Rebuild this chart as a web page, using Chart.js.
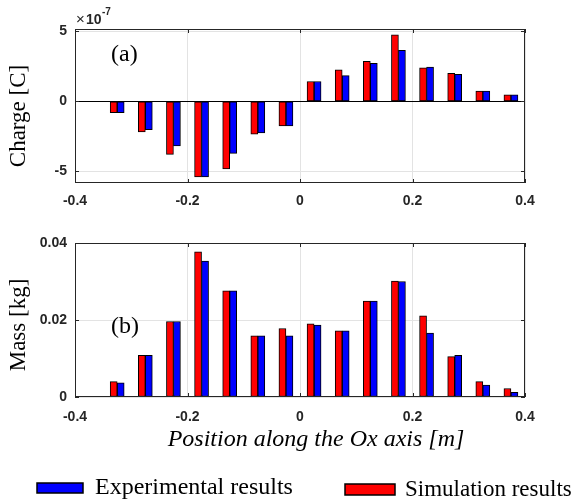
<!DOCTYPE html>
<html>
<head>
<meta charset="utf-8">
<script src="https://cdn.jsdelivr.net/npm/chart.js@4.4.1/dist/chart.umd.min.js"></script>
<style>
  html, body { margin: 0; padding: 0; background: #fff; }
  #wrap { position: relative; width: 575px; height: 504px; }
  #wrap canvas { position: absolute; left: 0; }
</style>
</head>
<body>
<div id="wrap">
  <canvas id="chargeChart" width="575" height="215" style="top:0"></canvas>
  <canvas id="massChart" width="575" height="289" style="top:215px"></canvas>
</div>
<script>
// Positions of the bar groups along Ox [m]
const positions = [-0.325, -0.275, -0.225, -0.175, -0.125, -0.075, -0.025,
                   0.025, 0.075, 0.125, 0.175, 0.225, 0.275, 0.325, 0.375];

// Charge, in units of 1e-7 C
const chargeSim = [-0.81, -2.19, -3.78, -5.39, -4.82, -2.35, -1.75,
                   1.42, 2.26, 2.86, 4.75, 2.40, 2.01, 0.74, 0.46];
const chargeExp = [-0.81, -2.02, -3.19, -5.39, -3.71, -2.26, -1.75,
                   1.42, 1.84, 2.71, 3.64, 2.45, 1.94, 0.74, 0.46];

// Mass [kg]
const massSim = [0.0040, 0.0108, 0.0196, 0.0377, 0.0276, 0.0159, 0.0178,
                 0.0190, 0.0172, 0.0249, 0.0301, 0.0211, 0.0105, 0.0040, 0.0022];
const massExp = [0.0037, 0.0108, 0.0196, 0.0353, 0.0276, 0.0159, 0.0159,
                 0.0187, 0.0172, 0.0249, 0.0300, 0.0166, 0.0108, 0.0031, 0.0012];

// Tick labels
const posTicks = [-0.4, -0.2, 0, 0.2, 0.4];
const chargeTicks = [-5, 0, 5];
const massTicks = [0, 0.02, 0.04];

const seriesLabels = ['Simulation results', 'Experimental results'];
const seriesColors = ['#ff0000', '#0000ff'];

const tickFont = { family: 'Liberation Sans', size: 14, weight: 'bold' };
const axisGray = '#262626';

function points(values) {
  return values.map((v, i) => ({ x: positions[i], y: v }));
}

function setTicks(list) {
  return scale => { scale.ticks = list.map(v => ({ value: v })); };
}

// box around the plot, small inward ticks, axis titles, panel tag, exponent
const framePlugin = {
  id: 'frame',
  afterDatasetsDraw(chart, args, opts) {
    const { ctx, chartArea: a, scales } = chart;
    ctx.save();
    ctx.strokeStyle = axisGray;
    ctx.lineWidth = 1;
    ctx.strokeRect(Math.round(a.left) + 0.5, Math.round(a.top) + 0.5,
                   Math.round(a.width) - 1, Math.round(a.height) - 1);
    ctx.beginPath();
    scales.x.ticks.forEach(t => {
      const px = Math.round(scales.x.getPixelForValue(t.value)) + 0.5;
      ctx.moveTo(px, a.bottom); ctx.lineTo(px, a.bottom - 4);
      ctx.moveTo(px, a.top); ctx.lineTo(px, a.top + 4);
    });
    scales.y.ticks.forEach(t => {
      const py = Math.round(scales.y.getPixelForValue(t.value)) + 0.5;
      ctx.moveTo(a.left, py); ctx.lineTo(a.left + 4, py);
      ctx.moveTo(a.right, py); ctx.lineTo(a.right - 4, py);
    });
    ctx.stroke();

    ctx.fillStyle = '#000';
    ctx.textBaseline = 'middle';
    ctx.textAlign = 'left';
    ctx.font = '24px "Liberation Serif"';
    ctx.fillText(opts.tag, 111, opts.tagY);

    // y title, rotated
    ctx.save();
    ctx.translate(19, opts.yTitleY);
    ctx.rotate(-Math.PI / 2);
    ctx.textAlign = 'center';
    ctx.font = '23px "Liberation Serif"';
    ctx.fillText(opts.yTitle, 0, 0);
    ctx.restore();

    if (opts.xTitle) {
      ctx.textAlign = 'center';
      ctx.font = 'italic 24px "Liberation Serif"';
      ctx.fillText(opts.xTitle, 316, opts.xTitleY);
    }

    if (opts.exponent) {
      ctx.fillStyle = axisGray;
      ctx.textAlign = 'left';
      ctx.textBaseline = 'alphabetic';
      ctx.font = '15px "Liberation Sans"';
      ctx.fillText('\u00d7', 76, 24);
      ctx.font = 'bold 14px "Liberation Sans"';
      ctx.fillText('10', 86, 24);
      ctx.font = 'bold 10px "Liberation Sans"';
      ctx.fillText('-7', 102, 15);
    }
    ctx.restore();
  }
};

// legend drawn under the lower panel, experimental first
const legendPlugin = {
  id: 'bottomLegend',
  afterDraw(chart) {
    const { ctx } = chart;
    const items = [
      { ds: 1, box: [37, 268, 46, 10], textX: 95, textY: 273, size: 24 },
      { ds: 0, box: [345, 269, 50, 11], textX: 405, textY: 275, size: 23 }
    ];
    ctx.save();
    items.forEach(it => {
      const ds = chart.data.datasets[it.ds];
      ctx.fillStyle = ds.backgroundColor;
      ctx.fillRect(...it.box);
      ctx.strokeStyle = '#000';
      ctx.lineWidth = 1.5;
      ctx.strokeRect(...it.box);
      ctx.fillStyle = '#000';
      ctx.font = it.size + 'px "Liberation Serif"';
      ctx.textBaseline = 'middle';
      ctx.fillText(ds.label, it.textX, it.textY);
    });
    ctx.restore();
  }
};

function makeChart(id, sim, exp, cfg) {
  return new Chart(document.getElementById(id), {
    type: 'bar',
    data: {
      datasets: [
        { label: seriesLabels[0], data: points(sim), backgroundColor: seriesColors[0] },
        { label: seriesLabels[1], data: points(exp), backgroundColor: seriesColors[1] }
      ]
    },
    options: {
      responsive: false,
      animation: false,
      layout: { padding: { top: cfg.top, right: 50, left: 0, bottom: 0 } },
      datasets: {
        bar: { barThickness: 7, borderColor: '#000', borderWidth: 1, borderSkipped: false }
      },
      scales: {
        x: {
          type: 'linear',
          offset: false,
          min: -0.4,
          max: 0.4,
          afterBuildTicks: setTicks(posTicks),
          afterFit: s => { s.height = cfg.xHeight; },
          grid: { offset: false, drawTicks: false, color: '#e3e3e3' },
          border: { display: false },
          ticks: {
            font: tickFont, color: axisGray, padding: cfg.xPad,
            maxRotation: 0, autoSkip: false,
            callback: v => String(v)
          }
        },
        y: {
          min: cfg.yMin,
          max: cfg.yMax,
          afterBuildTicks: setTicks(cfg.yTicks),
          afterFit: s => { s.width = 75; },
          grid: {
            drawTicks: false,
            color: c => (cfg.zeroLine && c.tick.value === 0) ? '#000' : '#e3e3e3'
          },
          border: { display: false },
          ticks: {
            font: tickFont, color: axisGray, padding: 8,
            callback: v => String(v)
          }
        }
      },
      plugins: {
        legend: { display: false },
        tooltip: { enabled: false },
        frame: cfg.frame
      }
    },
    plugins: cfg.legend ? [framePlugin, legendPlugin] : [framePlugin]
  });
}

makeChart('chargeChart', chargeSim, chargeExp, {
  top: 29, xHeight: 32, xPad: 10,
  yMin: -5.83, yMax: 5.17, yTicks: chargeTicks, zeroLine: true,
  frame: { tag: '(a)', tagY: 55, yTitle: 'Charge [C]', yTitleY: 116, exponent: true }
});

makeChart('massChart', massSim, massExp, {
  top: 28, xHeight: 107, xPad: 12,
  yMin: 0, yMax: 0.04, yTicks: massTicks, zeroLine: false, legend: true,
  frame: { tag: '(b)', tagY: 112, yTitle: 'Mass [kg]', yTitleY: 110,
           xTitle: 'Position along the Ox axis [m]', xTitleY: 225 }
});
</script>
</body>
</html>
